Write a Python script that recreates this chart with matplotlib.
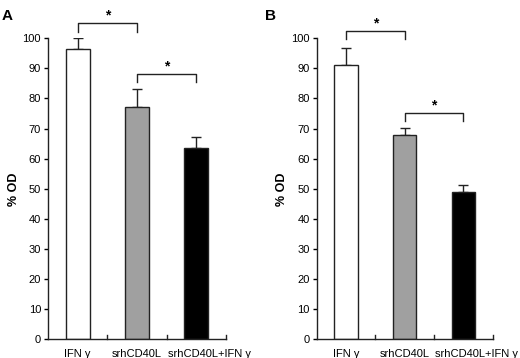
import numpy as np
import matplotlib.pyplot as plt

plt.rcParams['font.family'] = ['Liberation Sans', 'DejaVu Sans']

# data
categories = ['IFN γ', 'srhCD40L', 'srhCD40L+IFN γ']
colors = ['white', '#a0a0a0', 'black']

means_a = [96.5, 77.0, 63.5]
errs_a = [3.5, 6.3, 3.6]
means_b = [91.0, 68.0, 48.8]
errs_b = [5.6, 2.3, 2.5]

# significance brackets: (left bar, right bar, bracket level, leg bottom)
sig_a = [(0, 1, 105.0, 102.0), (1, 2, 88.1, 85.5)]
sig_b = [(0, 1, 102.3, 99.8), (1, 2, 75.1, 72.4)]

fig = plt.figure(figsize=(5.2, 3.58), dpi=100)
ax_a = fig.add_axes([0.0923, 0.0522, 0.3423, 0.841])
ax_b = fig.add_axes([0.609, 0.0522, 0.3385, 0.841])


def draw_panel(ax, means, errs, sigs, letter, letter_x):
    x = np.arange(len(categories))
    ax.bar(x, means, width=0.4, color=colors, edgecolor='#222222', linewidth=1.0, zorder=2)
    ax.errorbar(x, means, yerr=[np.zeros(len(errs)), errs], fmt='none',
                ecolor='#222222', elinewidth=1.0, capsize=3.5, capthick=1.0, zorder=1)
    ax.set_xlim(-0.5, 2.5)
    ax.set_ylim(0, 100)
    ax.set_yticks(np.arange(0, 101, 10))
    # last label sits a bit right of its bar, as in the original
    ax.set_xticks([0, 1, 2.22])
    ax.set_xticklabels(categories, fontsize=8)
    ax.tick_params(axis='x', length=0, pad=7)
    ax.tick_params(axis='y', length=3, width=1.0, labelsize=8, pad=2, direction='out')
    for xb in [0.5, 1.5, 2.5]:
        ax.plot([xb, xb], [0, 1.3], color='#222222', lw=1.0, clip_on=False)
    ax.spines['top'].set_visible(False)
    ax.spines['right'].set_visible(False)
    for s in ['left', 'bottom']:
        ax.spines[s].set_linewidth(1.0)
        ax.spines[s].set_color('#222222')
    ax.set_ylabel('% OD', fontsize=9, fontweight='bold', labelpad=2)

    for i, j, level, leg in sigs:
        ax.plot([i, i, j, j], [leg, level, level, leg], color='#222222', lw=1.0, clip_on=False)
        ax.text((i + j) / 2, level + 0.3, '*', ha='center', va='bottom',
                fontsize=10, fontweight='bold', clip_on=False)

    fig.text(letter_x, 0.975, letter, fontsize=11, fontweight='bold', va='top', ha='left')


draw_panel(ax_a, means_a, errs_a, sig_a, 'A', 0.004)
draw_panel(ax_b, means_b, errs_b, sig_b, 'B', 0.51)

fig.savefig('out.png', dpi=100)
